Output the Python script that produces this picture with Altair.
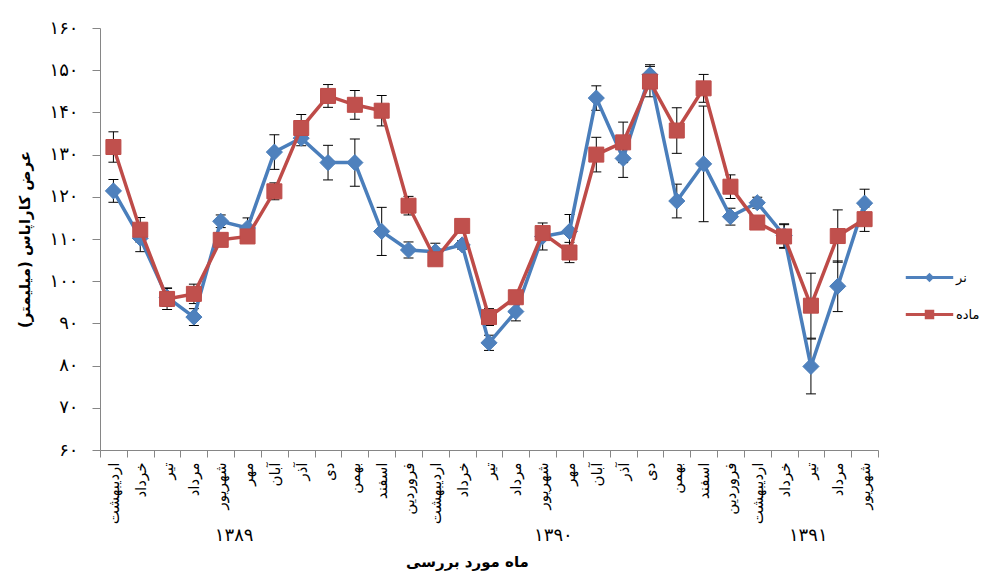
import json
import altair as alt
import pandas as pd

# ---------------- data ----------------
months = ['اردیبهشت', 'خرداد', 'تیر', 'مرداد', 'شهریور', 'مهر', 'آبان', 'آذر', 'دی', 'بهمن', 'اسفند',
          'فروردین', 'اردیبهشت', 'خرداد', 'تیر', 'مرداد', 'شهریور', 'مهر', 'آبان', 'آذر', 'دی', 'بهمن', 'اسفند',
          'فروردین', 'اردیبهشت', 'خرداد', 'تیر', 'مرداد', 'شهریور']

male = [121.4, 110.2, 96.2, 91.5, 114.2, 112.6, 130.6, 133.9, 128.1, 128.1, 111.8, 107.4, 107.0, 108.6,
        85.4, 92.8, 110.6, 111.8, 143.4, 129.1, 148.9, 119.0, 127.8, 115.3, 118.6, 110.8, 79.8, 98.8, 118.5]
male_err = [2.7, 3.2, 2.2, 2.0, 1.5, 2.4, 4.1, 1.8, 4.1, 5.6, 5.7, 1.9, 2.0, 1.0,
            1.8, 2.2, 3.2, 4.0, 2.9, 4.5, 2.4, 4.0, 13.7, 2.0, 1.3, 2.8, 6.5, 6.0, 3.3]

female = [131.8, 112.2, 95.8, 97.0, 109.8, 110.6, 121.3, 136.3, 143.9, 141.8, 140.4, 117.9, 105.2, 113.1,
          91.5, 96.2, 111.4, 106.8, 130.0, 132.9, 147.3, 135.7, 145.7, 122.4, 113.9, 110.6, 94.2, 110.7, 114.7]
female_err = [3.6, 2.9, 2.5, 2.3, 1.2, 1.0, 2.0, 3.2, 2.7, 3.4, 3.6, 2.2, 1.2, 1.0,
              2.0, 1.2, 1.0, 2.4, 4.1, 4.8, 3.6, 5.4, 3.3, 2.8, 1.2, 2.8, 7.7, 6.2, 2.9]

series_names = ['نر', 'ماده']
years = ['۱۳۸۹', '۱۳۹۰', '۱۳۹۱']
year_center = [4.5, 16.4, 25.9]          # category position of each year label
y_ticks = [60, 70, 80, 90, 100, 110, 120, 130, 140, 150, 160]

x_title = 'ماه مورد بررسی'
y_title = 'عرض کاراپاس (میلیمتر)' + '\u200f'

# ---------------- styles ----------------
BLUE_LINE, BLUE_FILL = '#4A7EBB', '#4F81BD'
RED_LINE, RED_FILL = '#BE4B48', '#C0504D'
AXIS_GRAY = '#868686'
FONT = 'DejaVu Sans'

fa_digits = '۰۱۲۳۴۵۶۷۸۹'
def fa(n):
    return ''.join(fa_digits[int(c)] for c in str(n))

idx = list(range(len(months)))

def frame(vals, errs, name):
    return pd.DataFrame({'i': idx, 'v': vals,
                         'lo': [v - e for v, e in zip(vals, errs)],
                         'hi': [v + e for v, e in zip(vals, errs)],
                         's': name})

df_m = frame(male, male_err, series_names[0])
df_f = frame(female, female_err, series_names[1])
df_all = pd.concat([df_m, df_f], ignore_index=True)

x_label_expr = json.dumps(months, ensure_ascii=False) + '[datum.value]'
y_label_expr = json.dumps([fa(t) for t in y_ticks], ensure_ascii=False) + '[(datum.value - 60) / 10]'

xscale = alt.Scale(type='band', domain=idx, paddingInner=0, paddingOuter=0)
yscale = alt.Scale(domain=[60, 160], nice=False, zero=False)

xaxis = alt.Axis(title=x_title, labelExpr=x_label_expr, labelAngle=-90, tickBand='extent',
                 tickSize=7, tickColor=AXIS_GRAY, domainColor=AXIS_GRAY, grid=False,
                 labelFont=FONT, labelFontSize=15, labelColor='black', labelPadding=5,
                 labelOverlap=False, titleFont=FONT, titleFontSize=15, titleFontWeight='bold',
                 titleColor='black', titleX=367, titleY=111, titleBaseline='middle')
yaxis = alt.Axis(title=y_title, values=y_ticks, labelExpr=y_label_expr, tickSize=8,
                 tickColor=AXIS_GRAY, domainColor=AXIS_GRAY, grid=False,
                 labelFont=FONT, labelFontSize=18, labelColor='black', labelPadding=14,
                 titleFont=FONT, titleFontSize=15, titleFontWeight='bold', titleColor='black',
                 titlePadding=16)

X = alt.X('i:O', scale=xscale, axis=xaxis)
Y = alt.Y('v:Q', scale=yscale, axis=yaxis)

# error bars
err_rule = alt.Chart(df_all).mark_rule(color='black', strokeWidth=1).encode(
    x=X, y=alt.Y('lo:Q', scale=yscale, axis=yaxis), y2='hi:Q')
err_caps = alt.Chart(df_all).transform_fold(['lo', 'hi'], as_=['k', 'cap']).mark_tick(
    color='black', thickness=1, size=10, opacity=1).encode(
    x=X, y=alt.Y('cap:Q', scale=yscale, axis=yaxis))

def series_layers(df, line_color, fill_color, shape, size):
    ln = alt.Chart(df).mark_line(color=line_color, strokeWidth=3.5).encode(x=X, y=Y)
    pt = alt.Chart(df).mark_point(shape=shape, filled=True, fill=fill_color, stroke=line_color,
                                  strokeWidth=1, size=size, opacity=1).encode(x=X, y=Y)
    return [ln, pt]

layers = [err_rule, err_caps]
layers += series_layers(df_m, BLUE_LINE, BLUE_FILL, 'diamond', 260)
layers += series_layers(df_f, RED_LINE, RED_FILL, 'square', 225)

# year labels under the month labels
for yr, c in zip(years, year_center):
    k = int(round(c))
    bp = c - k + 0.5
    layers.append(
        alt.Chart(pd.DataFrame({'i': [k], 't': [yr]})).mark_text(
            font=FONT, fontSize=18, color='black', baseline='middle', align='center').encode(
            x=alt.X('i:O', scale=xscale, axis=xaxis, bandPosition=bp),
            y=alt.value(508), text='t:N'))

# legend (line + marker symbols)
diamond_line = 'M-5,-0.33H5V0.33H-5Z M0,-1L1,0L0,1L-1,0Z'
square_line = 'M-5,-0.33H5V0.33H-5Z M-1,-1H1V1H-1Z'
leg = alt.Legend(title=None, orient='none', legendX=823, legendY=243, symbolSize=90,
                 labelOffset=20, rowPadding=23, labelFont=FONT, labelFontSize=13,
                 labelColor='black', padding=0, symbolOpacity=1, symbolStrokeWidth=0)
legend_layer = alt.Chart(pd.DataFrame({'s': series_names})).transform_filter('false').mark_point(
    filled=True, opacity=1, size=90).encode(
    color=alt.Color('s:N', scale=alt.Scale(domain=series_names, range=[BLUE_FILL, RED_FILL]), legend=leg),
    shape=alt.Shape('s:N', scale=alt.Scale(domain=series_names, range=[diamond_line, square_line]), legend=leg))
layers.append(legend_layer)

chart = alt.layer(*layers).properties(
    width=778, height=422,
    autosize=alt.AutoSizeParams(type='none'),
    padding={'left': 92, 'top': 20, 'right': 102, 'bottom': 121},
    background='white'
).configure_view(stroke=None)

chart.save('out.html', embed_options={'renderer': 'svg', 'actions': False})
